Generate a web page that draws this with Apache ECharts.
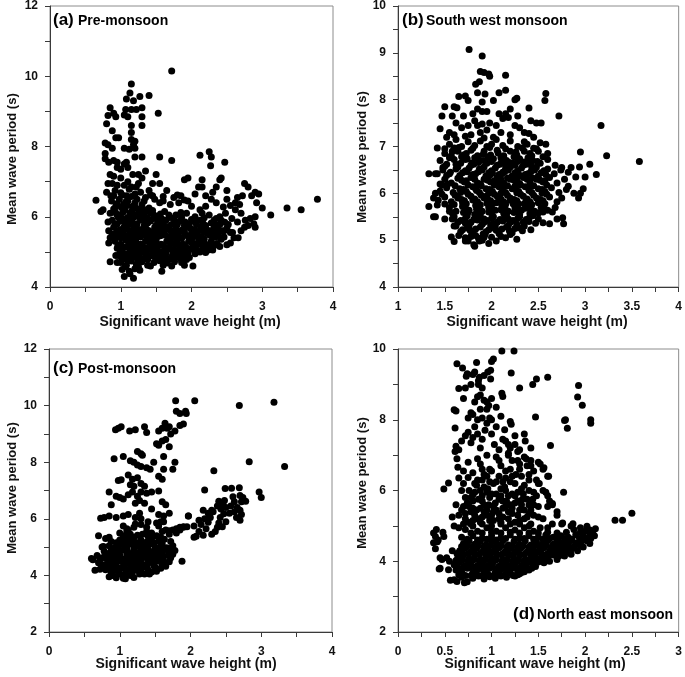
<!DOCTYPE html>
<html>
<head>
<meta charset="utf-8">
<script src="https://cdn.jsdelivr.net/npm/echarts@6/dist/echarts.min.js"></script>
<style>
html,body{margin:0;padding:0;background:#fff;}
#chart{width:685px;height:677px;}
</style>
</head>
<body>
<div id="chart"></div>
<script>
// ---------- Panel (a) Pre-monsoon: [Hs (m), Tm (s)] ----------
const aUpper = [
[1.72,10.15],[1.15,9.78],[1.13,9.52],[1.08,9.35],[1.18,9.3],[1.27,9.42],[1.4,9.45],[1.07,9.05],[1.15,9.05],[1.22,9.05],[1.3,9.1],[1.05,8.9],[1.1,8.85],[1.3,8.85],[1.3,8.6],[1.15,8.6],[1.15,8.4],[1.15,8.2],[1.18,8.05],[1.2,7.95],[1.12,7.92],[1.05,7.95],[1.2,8.15],[1.53,8.95],
[0.85,9.1],[0.82,8.88],[0.9,8.95],[0.93,8.85],[0.8,8.65],[0.88,8.45],[0.78,8.1],[0.82,8.05],[0.88,7.95],[0.78,7.8],[0.78,7.65],[0.83,7.55],[0.9,7.6],[0.95,7.55],[0.93,8.25],[0.97,8.25],[0.95,7.4],[0.85,7.2],[0.9,7.15],[1.0,7.35],[1.05,7.5],[1.08,7.55],[1.1,7.4],[1.0,7.1],[1.05,6.9],[1.1,7.0],[1.17,7.2],[1.25,7.2],[1.3,7.1],[1.35,7.3],[1.2,7.7],[1.3,7.7],[1.25,6.95],[1.15,6.85],[0.95,6.9],[0.88,6.95]
];
const aMid = [
[1.55,7.7],[1.72,7.6],[2.12,7.75],[2.25,7.85],[2.28,7.7],[2.27,7.45],[2.47,7.55],[1.9,7.05],[1.95,7.1],[2.15,7.05],[2.4,7.05],[2.42,7.1],[2.1,6.85],[2.15,6.85],[1.5,7.2],[1.45,6.95],[1.55,6.95],[1.65,6.75],[2.5,6.75],[2.75,6.95],[2.8,6.85],[2.65,6.55],[2.72,6.6],[2.85,6.6],[2.9,6.7],[2.95,6.65],[2.92,6.4],[3.0,6.25],[3.12,6.05],[3.35,6.25],[3.55,6.2],[3.78,6.5],[0.65,6.47],[0.72,6.15],[0.75,6.2],
[0.8,6.7],[0.86,6.6],[0.92,6.75],[1.0,6.68],[1.08,6.6],[1.12,6.78],[1.2,6.65],[1.28,6.7],[1.35,6.55],[0.82,6.95],[1.22,6.85],[1.4,6.75],[1.45,6.6],[1.6,6.45],[1.75,6.55],[1.85,6.6],[1.95,6.45],[2.05,6.65],[2.2,6.6],[2.3,6.7],[2.35,6.85]
];
const aCore = [
[0.87,6.45],[0.93,6.3],[0.98,6.5],[1.04,6.35],[1.1,6.45],[1.17,6.3],[1.23,6.5],[1.3,6.35],[1.36,6.2],[0.9,6.6],[1.02,6.62],[1.15,6.58],
[0.85,6.1],[0.92,6.15],[0.99,6.05],[1.06,6.2],[1.13,6.1],[1.19,6.0],[1.26,6.15],[1.33,6.05],[1.42,6.1],[1.52,6.0],[1.62,6.15],[1.78,6.05],[1.93,6.1],[2.05,6.0],[2.25,6.05],
[0.88,5.9],[0.95,5.8],[1.02,5.95],[1.09,5.85],[1.16,5.92],[1.23,5.8],[1.3,5.9],[1.38,5.82],[1.46,5.95],[1.55,5.8],[1.64,5.9],[1.72,5.78],[1.84,5.88],[1.97,5.8],[2.12,5.9],[2.28,5.82],[2.42,5.9],[2.52,5.78],
[0.9,5.7],[0.98,5.62],[1.05,5.72],[1.12,5.6],[1.19,5.7],[1.26,5.64],[1.33,5.74],[1.4,5.6],[1.48,5.7],[1.56,5.62],[1.63,5.72],[1.7,5.6],[1.78,5.68],[1.87,5.62],[1.95,5.72],[2.04,5.63],[2.13,5.7],[2.22,5.62],[2.32,5.7],[2.42,5.6],[2.5,5.68],
[0.88,5.5],[0.96,5.45],[1.03,5.55],[1.1,5.42],[1.17,5.52],[1.24,5.45],[1.31,5.55],[1.38,5.42],[1.45,5.5],[1.52,5.44],[1.6,5.55],[1.67,5.42],[1.74,5.5],[1.82,5.44],[1.9,5.53],[1.98,5.42],[2.06,5.5],[2.14,5.44],[2.22,5.52],[2.3,5.42],[2.38,5.5],[2.46,5.42],
[0.92,5.3],[1.0,5.22],[1.07,5.33],[1.14,5.24],[1.21,5.32],[1.28,5.22],[1.35,5.3],[1.43,5.24],[1.5,5.34],[1.57,5.22],[1.65,5.3],[1.72,5.24],[1.8,5.33],[1.88,5.22],[1.96,5.3],[2.04,5.24],[2.12,5.32],[2.2,5.22],[2.28,5.3],[2.36,5.24],
[0.95,5.1],[1.02,5.02],[1.09,5.14],[1.16,5.04],[1.23,5.12],[1.3,5.02],[1.37,5.1],[1.45,5.04],[1.52,5.14],[1.6,5.02],[1.68,5.1],[1.76,5.04],[1.84,5.12],[1.92,5.02],[2.0,5.1],[2.08,5.04],[2.16,5.12],[2.24,5.05],
[0.97,4.9],[1.04,4.82],[1.11,4.94],[1.18,4.85],[1.26,4.92],[1.33,4.82],[1.41,4.9],[1.49,4.84],[1.57,4.93],[1.65,4.82],[1.73,4.9],[1.81,4.85],[1.89,4.92],[1.97,4.84],[2.05,4.95],
[1.0,4.7],[1.08,4.62],[1.15,4.74],[1.22,4.65],[1.3,4.72],[1.38,4.62],[1.47,4.7],[1.55,4.75],[1.66,4.68],[1.76,4.72],[1.86,4.7],
[1.02,4.5],[1.05,4.3],[1.12,4.45],[1.18,4.25],[1.2,4.52],[1.27,4.48],[1.58,4.45],[2.02,4.6],
[0.82,5.85],[0.83,5.6],[0.85,5.4],[0.83,5.25],[0.85,4.72],[0.93,4.9],[0.95,4.7]
];
const aCoreFill = [
[0.9,6.22],[1.01,6.26],[1.09,6.32],[1.22,6.24],[1.3,6.22],[1.4,6.25],
[0.96,6.0],[1.1,5.98],[1.22,6.06],[1.37,5.97],[1.47,6.05],[1.58,5.94],[1.7,5.98],[1.86,5.98],[2.0,5.92],[2.18,5.97],[2.35,5.95],
[0.92,5.78],[1.06,5.86],[1.19,5.76],[1.34,5.84],[1.5,5.76],[1.6,5.84],[1.68,5.72],[1.8,5.78],[1.91,5.85],[2.07,5.78],[2.2,5.75],[2.36,5.76],[2.47,5.84],
[0.94,5.56],[1.08,5.66],[1.23,5.58],[1.36,5.66],[1.52,5.58],[1.66,5.66],[1.82,5.58],[1.99,5.66],[2.09,5.58],[2.27,5.6],[2.37,5.66],[2.55,5.55],
[0.92,5.38],[1.07,5.46],[1.2,5.38],[1.35,5.48],[1.48,5.38],[1.63,5.47],[1.78,5.38],[1.94,5.46],[2.1,5.38],[2.26,5.47],[2.42,5.36],
[0.96,5.18],[1.11,5.28],[1.25,5.18],[1.4,5.28],[1.54,5.18],[1.69,5.28],[1.84,5.18],[2.0,5.27],[2.16,5.18],[2.32,5.18],
[0.99,4.98],[1.13,5.06],[1.28,4.98],[1.42,5.08],[1.56,4.98],[1.72,5.06],[1.87,4.98],[2.03,5.06],[2.2,4.98],
[1.02,4.78],[1.16,4.88],[1.3,4.78],[1.45,4.88],[1.6,4.78],[1.77,4.88],[1.93,4.78],
[1.06,4.58],[1.25,4.58],[1.42,4.6],[1.6,4.62],[1.72,4.6],[1.9,4.62],[1.13,4.38]
];
const aCoreFill2 = [
[0.95,6.38],[1.07,6.42],[1.2,6.4],[1.33,6.45],
[0.94,6.08],[1.03,6.12],[1.16,6.18],[1.29,6.08],[1.45,6.18],[1.56,6.08],[1.68,6.05],[1.85,6.12],[2.15,6.1],
[0.99,5.88],[1.13,5.78],[1.27,5.96],[1.42,5.88],[1.52,5.9],[1.76,5.9],[1.9,5.75],[2.03,5.88],[2.16,5.82],[2.32,5.9],[2.4,5.78],
[1.01,5.64],[1.15,5.56],[1.3,5.62],[1.44,5.56],[1.59,5.68],[1.74,5.58],[1.9,5.6],[2.0,5.52],[2.18,5.58],[2.34,5.55],[2.46,5.6],
[1.0,5.4],[1.14,5.36],[1.28,5.42],[1.42,5.36],[1.56,5.46],[1.7,5.36],[1.86,5.38],[2.02,5.42],[2.18,5.36],[2.34,5.42],
[1.03,5.14],[1.18,5.2],[1.32,5.14],[1.47,5.2],[1.62,5.14],[1.77,5.2],[1.92,5.14],[2.08,5.2],[2.24,5.18],
[1.06,4.95],[1.2,4.98],[1.36,4.96],[1.5,5.0],[1.64,4.96],[1.8,5.0],[1.95,4.96],[2.12,5.0],
[1.1,4.78],[1.24,4.8],[1.38,4.78],[1.53,4.8],[1.69,4.8],[1.85,4.8]
];
const aRight = [
[2.3,5.05],[2.4,5.15],[2.5,5.2],[2.55,5.25],[2.6,5.4],[2.66,5.4],[2.58,5.55],[2.7,5.6],[2.75,5.7],[2.8,5.75],[2.88,5.8],[2.9,5.7],[2.76,5.9],[2.83,5.95],[2.9,6.0],[2.7,6.1],[2.62,6.2],[2.55,6.32],[2.48,6.1],[2.4,6.0],[2.35,6.4],[2.28,6.5],[2.2,6.3],[2.12,6.2],[2.0,6.3],[1.9,6.48],[1.82,6.4],[1.8,6.62],[1.7,6.35],[1.6,6.58],[1.55,6.4],[1.48,6.5],[1.42,6.62],[2.5,6.5],[2.62,6.4],[2.68,6.35],[2.45,6.28],[2.57,5.95],[2.65,5.85]
];

// ---------- Panel (b) South west monsoon ----------
const bOuter = [
[1.76,9.07],[1.9,8.93],[1.88,8.6],[1.92,8.58],[1.97,8.55],[1.98,8.5],[1.83,8.33],[1.87,8.38],[2.15,8.52],[2.15,8.2],[2.08,8.15],[1.93,8.12],[2.02,7.98],[2.25,8.0],[2.27,8.03],[2.58,8.13],[2.57,7.98],[2.4,7.82],[2.72,7.65],[3.17,7.45],[3.23,6.8],[3.58,6.68],[2.95,6.88],[2.94,6.56],[3.05,6.62],[3.12,6.4],[3.0,6.35],[2.98,6.1],[2.93,5.9],[2.95,6.0],[2.77,5.35],[2.76,5.48],[2.62,5.35],[2.55,5.37],[2.27,5.02],[2.2,5.12],[2.33,5.2],[1.82,4.87],[1.81,4.9],[1.87,4.98],[1.72,4.98],[1.6,4.97],[1.57,5.07],[1.33,5.72],[1.38,5.5],[1.4,5.5],[1.5,5.45],[1.33,6.42],[1.4,6.42],[1.42,6.42],[1.42,6.97],[1.45,7.38],[1.47,7.65],[1.5,7.85],[1.63,7.83],[1.65,8.07],[1.72,8.08],[1.75,7.98],[1.6,7.25],[1.72,7.22],[1.75,7.45],[1.85,7.45],[1.9,7.48],[1.8,7.7],[1.85,7.8],[1.9,7.75],[1.95,7.75],[1.98,7.5],[1.92,7.18],[2.0,7.05],[2.1,7.3],[2.12,7.6],[2.15,7.7],[2.18,7.62],[2.28,7.65],[2.3,7.4],[2.35,7.1],[2.4,7.28],[2.42,7.55],[2.48,7.5],[2.53,7.5],[2.58,7.05],[2.52,7.08],[2.48,6.95],
[1.38,5.9],[1.42,5.75],[1.45,6.2],[1.4,6.0],[2.85,6.55],[2.9,6.35],[2.82,6.15],[2.88,6.0],[2.7,5.45],[2.65,5.6],
[1.55,7.3],[1.62,7.5],[1.68,7.4],[1.7,7.65],[1.78,7.25],[1.82,7.55],[1.88,7.3],[1.95,7.35],[2.02,7.2],[2.05,7.45],[2.08,7.7],[2.2,7.25],[2.25,7.45],[2.35,7.3],[1.6,7.85],[1.9,7.95],[2.2,7.8],[1.85,8.15],[2.45,7.2],[1.58,7.65],[1.52,7.2],[1.48,6.55]
];
const bCore = [
[1.55,7.05],[1.62,7.15],[1.68,7.0],[1.75,7.1],[1.82,7.02],[1.88,7.12],[1.95,7.0],[2.05,7.15],[2.12,7.02],[2.2,7.12],[2.28,7.0],[2.38,7.05],[1.5,6.95],[1.58,6.9],
[1.5,6.85],[1.57,6.8],[1.64,6.9],[1.7,6.82],[1.78,6.92],[1.85,6.8],[1.92,6.9],[1.99,6.82],[2.06,6.92],[2.13,6.8],[2.2,6.9],[2.27,6.82],[2.35,6.9],[2.43,6.8],[2.5,6.9],[2.6,6.85],
[1.45,6.7],[1.52,6.62],[1.6,6.72],[1.67,6.64],[1.74,6.74],[1.81,6.62],[1.88,6.7],[1.95,6.64],[2.02,6.74],[2.09,6.62],[2.16,6.7],[2.23,6.64],[2.3,6.74],[2.37,6.62],[2.44,6.7],[2.52,6.64],[2.6,6.72],[2.68,6.6],[2.75,6.55],
[1.48,6.5],[1.55,6.42],[1.62,6.52],[1.69,6.44],[1.76,6.54],[1.83,6.42],[1.9,6.5],[1.97,6.44],[2.04,6.54],[2.11,6.42],[2.18,6.5],[2.25,6.44],[2.32,6.54],[2.39,6.42],[2.46,6.5],[2.53,6.44],[2.6,6.52],[2.67,6.42],[2.74,6.5],[2.82,6.45],
[1.5,6.3],[1.57,6.22],[1.64,6.32],[1.71,6.24],[1.78,6.34],[1.85,6.22],[1.92,6.3],[1.99,6.24],[2.06,6.34],[2.13,6.22],[2.2,6.3],[2.27,6.24],[2.34,6.34],[2.41,6.22],[2.48,6.3],[2.55,6.24],[2.62,6.34],[2.7,6.22],[2.78,6.3],
[1.45,6.05],[1.52,6.12],[1.59,6.02],[1.66,6.1],[1.73,6.04],[1.8,6.14],[1.87,6.02],[1.94,6.1],[2.01,6.04],[2.08,6.14],[2.15,6.02],[2.22,6.1],[2.29,6.04],[2.36,6.14],[2.43,6.02],[2.5,6.1],[2.57,6.04],[2.64,6.12],[2.72,6.02],[2.8,6.08],
[1.43,5.85],[1.5,5.92],[1.57,5.82],[1.64,5.9],[1.71,5.84],[1.78,5.94],[1.85,5.82],[1.92,5.9],[1.99,5.84],[2.06,5.94],[2.13,5.82],[2.2,5.9],[2.27,5.84],[2.34,5.94],[2.41,5.82],[2.48,5.9],[2.55,5.84],[2.62,5.92],[2.7,5.82],[2.75,5.9],
[1.55,5.7],[1.62,5.62],[1.69,5.72],[1.76,5.64],[1.83,5.74],[1.9,5.62],[1.97,5.7],[2.04,5.64],[2.11,5.74],[2.18,5.62],[2.25,5.7],[2.32,5.64],[2.39,5.74],[2.46,5.62],[2.53,5.7],[2.6,5.64],[2.68,5.7],
[1.6,5.5],[1.67,5.42],[1.74,5.52],[1.81,5.44],[1.88,5.54],[1.95,5.42],[2.02,5.5],[2.09,5.44],[2.16,5.54],[2.23,5.42],[2.3,5.5],[2.37,5.44],[2.44,5.52],[2.5,5.45],
[1.62,5.3],[1.69,5.22],[1.76,5.32],[1.83,5.24],[1.9,5.34],[1.97,5.22],[2.04,5.3],[2.11,5.24],[2.18,5.32],[2.25,5.25],[2.35,5.3],[2.42,5.22],
[1.65,5.1],[1.72,5.05],[1.79,5.14],[1.86,5.04],[1.93,5.12],[2.0,5.06],[2.08,5.14],[2.15,5.05],
[1.82,5.55],[1.88,5.75],[1.95,5.95],[2.0,5.58],[2.05,5.8],[2.1,6.0],[2.15,5.65],[2.2,5.85],[2.25,6.15],[2.3,5.55],[2.08,6.25],[1.98,6.38],[2.12,6.45],[2.25,6.6],[2.35,5.78],[1.92,5.45],[2.02,5.35],[2.18,5.45],[1.75,5.6],[2.28,6.35]
];
const bCoreFill = [
[1.65,6.98],[1.8,6.96],[1.98,6.98],[2.15,6.95],[2.33,6.97],[2.45,6.96],
[1.55,6.76],[1.68,6.78],[1.82,6.76],[1.96,6.78],[2.1,6.76],[2.24,6.78],[2.39,6.76],[2.55,6.78],
[1.5,6.58],[1.64,6.56],[1.78,6.6],[1.92,6.56],[2.06,6.6],[2.2,6.56],[2.34,6.6],[2.48,6.56],
[1.52,6.38],[1.66,6.38],[1.8,6.4],[1.94,6.37],[2.08,6.4],[2.22,6.37],[2.36,6.4],[2.5,6.37],
[1.47,6.18],[1.61,6.16],[1.75,6.18],[1.89,6.16],[2.03,6.18],[2.17,6.16],[2.31,6.18],[2.45,6.16],[2.59,6.18],
[1.47,5.98],[1.61,5.96],[1.75,5.98],[1.89,5.96],[2.03,5.98],[2.17,5.96],[2.31,5.98],[2.45,5.96],[2.59,5.98],
[1.5,5.77],[1.6,5.76],[1.73,5.78],[1.87,5.76],[2.01,5.78],[2.15,5.76],[2.29,5.78],[2.43,5.76],[2.57,5.78],
[1.58,5.58],[1.71,5.6],[1.85,5.57],[1.99,5.6],[2.13,5.57],[2.27,5.6],[2.41,5.57],[2.55,5.6],
[1.64,5.38],[1.78,5.38],[1.92,5.38],[2.06,5.38],[2.2,5.38],[2.34,5.38],[2.47,5.36],
[1.67,5.18],[1.8,5.18],[1.94,5.18],[2.08,5.18],[2.22,5.16],
[1.75,4.98],[1.9,5.0],[2.05,4.98],[1.97,4.93]
];
const bCoreFill2 = [
[1.72,6.72],[1.86,6.66],[2.0,6.68],[2.14,6.64],[2.28,6.68],[2.42,6.64],
[1.72,6.48],[1.86,6.46],[2.0,6.48],[2.14,6.46],[2.28,6.48],[2.42,6.46],[2.56,6.48],
[1.68,6.28],[1.82,6.3],[1.96,6.28],[2.1,6.3],[2.24,6.28],[2.38,6.3],[2.52,6.28],
[1.7,6.08],[1.84,6.06],[1.98,6.08],[2.12,6.06],[2.26,6.08],[2.4,6.06],[2.54,6.08],
[1.68,5.87],[1.82,5.88],[1.96,5.87],[2.1,5.88],[2.24,5.87],[2.38,5.88],[2.52,5.87],
[1.72,5.68],[1.86,5.68],[2.0,5.68],[2.14,5.68],[2.28,5.68],[2.42,5.68],[2.56,5.68],
[1.72,5.46],[1.86,5.48],[2.0,5.46],[2.14,5.48],[2.28,5.46],[2.4,5.47],
[1.74,5.26],[1.88,5.28],[2.02,5.26],[2.16,5.28],[2.3,5.26],
[1.78,5.08],[1.92,5.06],[2.1,5.08]
];
const bCoreFill3 = [
[1.73,6.85],[1.91,6.83],[2.07,6.86],[2.26,6.88],[2.41,6.85],[1.79,6.65],[1.93,6.69],[2.11,6.69],[2.19,6.66],[2.35,6.67],[2.49,6.68],[1.74,6.46],[1.87,6.52],[2.01,6.43],[2.15,6.53],[2.29,6.41],[2.43,6.55],[2.58,6.4],[1.73,6.27],[1.88,6.2],[2.03,6.27],[2.17,6.33],[2.3,6.21],[2.44,6.33],[2.57,6.27],[1.67,6.02],[1.83,6.1],[1.97,6.0],[2.12,6.11],[2.27,6.01],[2.4,6.12],[2.54,6.0],[1.69,5.8],[1.8,5.86],[1.95,5.79],[2.08,5.86],[2.23,5.78],[2.37,5.85],[2.5,5.8],[1.7,5.59],[1.84,5.66],[1.97,5.6],[2.1,5.65],[2.24,5.59],[2.36,5.68],[2.5,5.58],[1.72,5.36],[1.85,5.43],[1.99,5.33],[2.12,5.41],[2.27,5.34],[2.4,5.4],[1.77,5.21],[1.91,5.13],[2.05,5.21],[2.19,5.2],[1.83,5.1],[1.6,5.3],[1.58,5.45],[1.55,5.62],[1.53,6.2],[1.56,6.45],[1.62,6.62],[1.6,6.97]
];

// ---------- Panel (c) Post-monsoon ----------
const cArm = [
[0.73,6.02],[0.78,6.05],[0.85,6.1],[0.95,6.05],[1.05,6.1],[1.12,6.15],[1.22,6.05],[1.28,6.2],[1.3,6.0],[0.88,6.5],[0.95,6.8],[1.0,6.75],[1.05,6.7],[1.12,6.85],[1.18,6.95],[1.25,6.8],[1.28,6.65],[1.35,6.55],[1.22,6.55],[1.3,6.95],[1.38,6.9],[1.45,6.95],[1.55,6.98],[0.85,6.95],[0.98,7.35],[1.02,7.38],[1.12,7.55],[1.18,7.4],[1.25,7.45],[1.3,7.25],[1.35,7.15],[1.2,7.15],[1.15,7.2],[1.55,7.5],[1.6,7.4],[1.62,7.75],[1.75,7.75],[1.38,7.8],[1.43,7.75],[1.3,7.85],[1.25,7.9],[1.2,8.0],[1.15,8.05],[1.05,8.2],[0.92,8.12],[1.3,8.3],[1.25,8.38],[1.32,8.25],[1.48,8.0],[1.62,8.2],[1.7,8.55],[1.55,8.6],[1.6,8.75],[1.65,8.8],[1.72,9.0],[1.78,9.1],[1.85,9.3],[1.9,9.35],[1.6,9.2],[1.55,9.1],[1.52,8.65],[0.94,9.15],[0.98,9.2],[1.02,9.25],[1.14,9.1],[1.22,9.15],[1.35,9.25],[1.38,9.05],[1.64,9.38],[1.7,9.25],[1.67,9.2],[1.8,9.8],[1.85,9.72],[1.93,9.8],[1.94,9.72],[1.79,10.17],[2.06,10.17],[1.78,8.0],[1.45,6.35],[1.6,6.6],[1.65,6.5],[1.55,6.15],[1.62,6.1],[1.7,6.2],[1.58,5.9],[1.97,6.1],[1.85,5.7]
];
const cBand = [
[2.2,7.02],[2.49,7.07],[2.58,7.08],[2.69,7.1],[2.33,7.7],[2.83,8.02],[3.33,7.85],[2.69,10.0],[3.18,10.12],[2.97,6.95],[3.0,6.75],
[2.7,6.82],[2.74,6.75],[2.72,6.6],[2.78,6.62],[2.6,6.78],[2.62,6.6],[2.57,6.45],[2.66,6.4],[2.62,6.25],[2.7,6.3],[2.72,6.15],[2.65,6.05],[2.7,5.95],[2.55,6.2],
[2.48,6.65],[2.46,6.5],[2.4,6.62],[2.38,6.45],[2.43,6.35],[2.5,6.4],[2.47,6.18],[2.42,6.05],[2.5,5.9],[2.4,5.85],[2.45,5.72],[2.38,5.7],[2.35,5.55],[2.32,6.25],
[2.3,6.3],[2.25,6.2],[2.18,6.3],[2.28,6.05],[2.2,6.0],[2.12,5.95],[2.25,5.88],[2.15,5.8],[2.05,5.75],[2.22,5.65],[2.12,5.55],[2.3,5.45],[2.18,5.42],[2.08,5.38],[2.05,5.35],[1.97,6.1],[1.9,5.72],[1.88,4.5]
];
const cCore = [
[0.9,4.0],[0.95,3.92],[1.0,4.05],[1.05,3.9],[1.08,3.88],[1.15,4.0],[1.2,3.93],[1.28,4.05],[1.35,4.05],[1.45,4.12],[1.52,4.15],[0.85,3.95],
[0.65,4.18],[0.72,4.22],[0.8,4.2],[0.88,4.28],[0.95,4.18],[1.02,4.25],[1.1,4.2],[1.18,4.3],[1.25,4.18],[1.32,4.28],[1.4,4.2],[1.5,4.3],[1.58,4.25],[1.65,4.32],
[0.7,4.45],[0.78,4.38],[0.85,4.48],[0.92,4.4],[0.99,4.5],[1.06,4.38],[1.13,4.46],[1.2,4.4],[1.27,4.5],[1.34,4.38],[1.41,4.46],[1.48,4.4],[1.56,4.5],[1.63,4.42],[1.7,4.48],
[0.6,4.6],[0.62,4.55],[0.68,4.7],[0.75,4.62],[0.82,4.7],[0.89,4.6],[0.96,4.68],[1.03,4.58],[1.1,4.7],[1.17,4.6],[1.24,4.68],[1.31,4.58],[1.38,4.7],[1.45,4.6],[1.52,4.68],[1.6,4.6],[1.68,4.7],[1.72,4.62],
[0.78,4.85],[0.85,4.78],[0.92,4.88],[0.99,4.8],[1.06,4.9],[1.13,4.78],[1.2,4.86],[1.27,4.8],[1.34,4.9],[1.41,4.78],[1.48,4.86],[1.55,4.8],[1.62,4.9],[1.7,4.82],[1.78,4.88],
[0.75,5.0],[0.85,5.05],[0.93,4.98],[1.0,5.08],[1.07,5.0],[1.14,5.1],[1.21,4.98],[1.28,5.06],[1.35,5.0],[1.42,5.1],[1.5,5.0],[1.58,5.06],[1.66,4.98],[1.75,5.05],
[0.8,5.3],[0.88,5.2],[1.0,5.25],[1.05,5.18],[1.12,5.28],[1.2,5.2],[1.3,5.25],[1.38,5.18],[1.45,5.3],[1.55,5.22],[1.63,5.28],[1.72,5.2],
[1.0,5.5],[1.05,5.4],[1.1,5.55],[1.15,5.45],[1.32,5.45],[1.38,5.55],[1.45,5.5],[1.52,5.4],[1.6,5.55],[1.7,5.45],[1.8,5.5],
[1.05,5.75],[1.1,5.65],[1.3,5.8],[1.38,5.7],[1.4,5.9],[1.55,5.75],[1.65,5.6],[1.7,5.58],[1.75,5.6],[1.8,5.65],[1.85,5.6],[1.9,5.7],[1.95,5.72],[1.52,5.85],[1.62,5.9],
[0.7,5.4],[0.85,5.35],[0.77,5.02],[1.1,4.55],[1.25,4.35],[0.98,4.25]
];
const cCoreFill = [
[0.88,4.1],[0.98,4.12],[1.08,4.08],[1.18,4.12],[1.3,4.12],[1.42,4.05],
[0.75,4.32],[0.85,4.35],[0.95,4.32],[1.05,4.32],[1.15,4.35],[1.28,4.3],[1.38,4.32],[1.48,4.35],[1.6,4.38],
[0.72,4.55],[0.82,4.58],[0.92,4.52],[1.0,4.6],[1.08,4.52],[1.2,4.55],[1.3,4.62],[1.4,4.55],[1.5,4.55],[1.62,4.52],
[0.8,4.75],[0.9,4.72],[1.0,4.72],[1.1,4.8],[1.18,4.72],[1.3,4.75],[1.4,4.68],[1.5,4.75],[1.6,4.72],[1.75,4.75],
[0.88,4.95],[0.98,4.92],[1.1,4.95],[1.2,4.92],[1.3,4.95],[1.4,4.92],[1.55,4.92],[1.7,4.95],
[0.95,5.15],[1.08,5.12],[1.18,5.12],[1.25,5.15],[1.35,5.12],[1.48,5.15],[1.6,5.12],
[1.12,5.38],[1.2,5.35],[1.25,5.42],[1.4,5.38],[1.58,5.35],[1.12,5.6],[1.2,5.7],[1.22,5.82]
];

// ---------- Panel (d) North east monsoon ----------
const dUpper = [
[1.11,9.94],[1.24,9.94],[1.0,9.65],[1.02,9.72],[0.84,9.62],[0.63,9.58],[0.69,9.46],[0.73,9.23],[0.74,9.3],[0.8,9.28],[0.82,9.35],[0.86,9.1],[0.87,9.2],[0.92,9.25],[0.96,9.35],[0.99,9.4],[0.99,9.15],[1.21,9.32],[1.3,8.9],[1.44,9.0],[1.48,9.15],[1.6,9.2],[1.93,8.97],[1.92,8.64],[1.97,8.41],[2.06,8.0],[2.06,7.9],[1.78,7.98],[1.79,8.0],[1.81,7.76],[1.47,8.08],[1.63,7.27],[1.36,7.4],[0.65,8.88],[0.7,8.6],[0.6,8.28],[0.62,8.25],[0.61,7.77],[1.11,8.75],[1.12,8.66],[0.95,8.5],[0.97,8.4],[1.2,7.95],[1.21,7.87],[1.14,7.72],[1.15,7.4],[1.18,7.3],
[0.62,7.25],[0.65,7.15],[0.68,7.4],[0.72,7.55],[0.75,7.65],[0.78,7.35],[0.8,7.5],[0.82,7.8],[0.85,7.6],[0.88,7.2],[0.9,7.45],[0.93,7.7],[0.95,7.9],[0.98,8.05],[1.0,7.6],[1.03,7.3],[1.05,7.8],[1.08,7.15],[1.12,7.45],[1.18,7.0],[1.2,7.2],[1.25,7.55],[1.3,7.15],[1.22,6.85],[0.75,8.05],[0.78,8.2],[0.8,8.15],[0.85,8.0],[0.88,8.3],[0.9,8.05],[0.95,8.3],[1.0,8.0],[1.05,8.35],[1.1,8.1],[0.82,8.5],[0.85,8.65],[0.88,8.7],[0.92,8.55],[1.0,8.6],[0.86,9.0],[0.9,8.9],[0.78,9.0],[0.72,8.9]
];
const dMid = [
[0.49,6.04],[0.54,6.21],[0.75,6.37],[0.61,7.1],[0.63,6.9],[0.64,6.66],[2.5,5.36],[2.32,5.16],[2.4,5.16],[1.91,4.5],[1.87,5.06],[1.76,5.08],[1.77,5.95],[1.65,5.63],[1.6,5.55],[1.61,6.4],[1.56,6.64],[1.51,6.2],
[0.6,5.0],[0.65,5.3],[0.7,5.55],[0.75,5.1],[0.78,5.4],[0.8,5.7],[0.82,5.95],[0.85,5.2],[0.88,5.5],[0.9,5.85],[0.92,6.1],[0.95,5.3],[0.97,5.6],[1.0,5.9],[1.02,5.15],[1.05,5.45],[1.08,5.75],[1.1,6.05],[1.12,5.25],[1.15,5.55],[1.18,5.85],[1.2,5.05],[1.22,5.35],[1.25,5.65],[1.28,5.95],[1.3,5.15],[1.35,5.45],[1.38,5.75],[1.42,5.05],[1.45,5.3],[1.5,5.55],[1.48,5.85],[0.72,5.8],[0.68,6.0],[0.85,6.3],[0.95,6.4],[1.05,6.25],[1.15,6.35],[1.25,6.2],[1.32,6.4],[1.4,6.3],[0.62,5.6],[0.58,5.25],[0.7,6.2],[0.8,6.5],[0.9,6.6],[1.0,6.55],[1.1,6.7],[1.2,6.6],[1.3,6.75],[1.38,6.7],[1.45,6.55],[1.5,6.8],[0.75,6.8],[0.85,6.9],[0.95,7.0],[1.05,6.95],[1.18,7.05],[1.28,7.1],[1.35,6.95],[1.42,6.85],[1.55,6.6],[1.6,6.4],[1.5,6.2],[1.55,6.0],[1.45,5.95],[1.6,5.85],[1.65,5.6],[1.7,5.3],[1.55,5.2],[1.65,5.05],[1.75,5.05],
[1.37,6.9],[1.42,6.7],[1.48,6.3],[1.52,6.75],[1.58,5.95],[1.62,5.7],[1.7,5.4],[1.5,5.25],[1.45,5.6],[1.4,6.0],[1.35,6.15],[1.3,6.6],[1.28,6.85],
[0.38,4.8],[0.4,4.7],[0.41,4.9],[0.38,4.52],[0.42,4.55],[0.43,4.6],[0.4,4.35],[0.45,4.1],[0.47,4.05],[0.45,3.8],[0.44,3.78],[0.56,3.46],[0.63,3.43],[0.71,3.39],[0.54,3.76],[0.49,4.7],[0.48,4.82],[0.52,4.1],[0.55,4.0],[0.58,4.3]
];
const dMidFill = [
[0.65,4.95],[0.72,5.2],[0.78,5.05],[0.82,5.3],[0.88,5.1],[0.92,5.4],[0.98,5.15],[1.02,5.4],[1.08,5.2],[1.12,5.5],[1.18,5.2],[1.22,5.5],[1.28,5.3],[1.32,5.6],[1.38,5.25],[1.42,5.45],
[0.68,5.45],[0.74,5.65],[0.8,5.5],[0.86,5.75],[0.92,5.6],[0.98,5.8],[1.04,5.65],[1.1,5.85],[1.16,5.7],[1.22,5.9],[1.28,5.7],[1.34,5.9],[1.4,5.6],
[0.76,6.0],[0.84,6.15],[0.9,6.3],[0.96,6.05],[1.02,6.2],[1.08,6.4],[1.14,6.1],[1.2,6.25],[1.26,6.45],[0.8,5.88],[0.98,6.6],[1.15,6.55],[0.88,6.75],[1.08,6.85],[1.25,7.3],[1.35,7.6],[1.42,7.2],[1.4,6.45],[0.7,6.55],[0.65,6.35]
];
const dMidFill2 = [
[0.7,5.05],[0.8,5.15],[0.9,5.25],[1.0,5.3],[1.1,5.1],[1.25,5.1],[1.35,5.2],
[0.72,5.35],[0.84,5.45],[0.95,5.45],[1.08,5.35],[1.18,5.4],[1.3,5.45],[1.4,5.35],
[0.76,5.55],[0.9,5.7],[1.02,5.55],[1.12,5.7],[1.2,5.6],[1.33,5.75],[1.44,5.75],
[0.78,5.8],[0.88,6.0],[0.95,5.95],[1.05,5.9],[1.15,6.0],[1.25,5.85],[1.32,6.05],
[0.82,6.2],[0.98,6.25],[1.12,6.25],[1.22,6.4],[0.92,6.45]
];
const dBand = [
[0.6,3.48],[0.68,3.55],[0.74,3.42],[0.8,3.52],[0.86,3.58],[0.92,3.5],[0.98,3.56],[1.04,3.52],[1.1,3.58],[1.16,3.55],[1.23,3.6],[1.28,3.62],
[0.62,3.75],[0.68,3.7],[0.74,3.8],[0.8,3.68],[0.86,3.78],[0.92,3.7],[0.98,3.8],[1.04,3.68],[1.1,3.78],[1.16,3.7],[1.22,3.8],[1.28,3.72],[1.34,3.8],[1.4,3.75],
[0.6,3.9],[0.66,3.98],[0.72,3.88],[0.78,3.96],[0.84,3.86],[0.9,3.95],[0.96,3.88],[1.02,3.98],[1.08,3.86],[1.14,3.96],[1.2,3.88],[1.26,3.98],[1.32,3.88],[1.38,3.96],[1.44,3.9],[1.5,3.98],[1.56,3.96],
[0.64,4.1],[0.7,4.18],[0.76,4.08],[0.82,4.16],[0.88,4.06],[0.94,4.15],[1.0,4.08],[1.06,4.18],[1.12,4.06],[1.18,4.16],[1.24,4.08],[1.3,4.18],[1.36,4.06],[1.42,4.15],[1.48,4.08],[1.54,4.18],[1.6,4.1],[1.66,4.18],[1.72,4.15],
[0.66,4.3],[0.72,4.38],[0.78,4.28],[0.84,4.36],[0.9,4.26],[0.96,4.35],[1.02,4.28],[1.08,4.38],[1.14,4.26],[1.2,4.36],[1.26,4.28],[1.32,4.38],[1.38,4.26],[1.44,4.35],[1.5,4.28],[1.56,4.38],[1.62,4.28],[1.68,4.36],[1.74,4.3],[1.8,4.38],[1.86,4.35],
[0.7,4.5],[0.76,4.58],[0.82,4.48],[0.88,4.56],[0.94,4.46],[1.0,4.55],[1.06,4.48],[1.12,4.58],[1.18,4.46],[1.24,4.56],[1.3,4.48],[1.36,4.58],[1.42,4.46],[1.48,4.55],[1.54,4.48],[1.6,4.58],[1.66,4.48],[1.72,4.56],[1.78,4.5],[1.84,4.58],[1.9,4.5],[1.96,4.56],[2.02,4.58],
[0.68,4.68],[0.8,4.72],[0.9,4.65],[1.0,4.72],[1.1,4.66],[1.2,4.74],[1.3,4.66],[1.4,4.72],[1.5,4.68],[1.58,4.74],[1.66,4.68],[1.74,4.72],[1.82,4.68],[1.9,4.75],[1.98,4.7],[2.05,4.75],[2.1,4.72],
[0.72,4.9],[0.85,4.85],[0.95,4.95],[1.05,4.85],[1.15,4.95],[1.25,4.88],[1.35,4.95],[1.45,4.85],[1.88,4.9],[1.95,4.95],[2.02,4.99],[2.08,4.82],[2.11,4.92],[2.0,4.85],
[1.62,4.0],[1.7,4.05],[1.78,4.15],[1.85,4.2],[1.92,4.3],[1.98,4.4],[2.05,4.5],[1.76,4.24],[1.3,3.65],[1.35,3.7],[1.43,3.8],[1.47,3.85],[1.25,3.58]
];
const dBandFill = [
[0.65,3.62],[0.72,3.6],[0.78,3.6],[0.84,3.64],[0.9,3.6],[0.96,3.64],[1.02,3.6],[1.08,3.64],[1.14,3.62],[1.2,3.66],[1.32,3.68],
[0.64,3.82],[0.7,3.84],[0.77,3.84],[0.83,3.82],[0.89,3.84],[0.95,3.82],[1.01,3.84],[1.07,3.82],[1.13,3.84],[1.19,3.82],[1.25,3.84],[1.31,3.82],[1.37,3.86],[1.46,3.88],
[0.62,4.02],[0.69,4.04],[0.75,4.02],[0.81,4.04],[0.87,4.0],[0.93,4.04],[0.99,4.0],[1.05,4.04],[1.11,4.0],[1.17,4.04],[1.23,4.0],[1.29,4.04],[1.35,4.0],[1.41,4.04],[1.47,4.02],[1.53,4.05],[1.58,4.06],
[0.63,4.22],[0.69,4.24],[0.75,4.22],[0.81,4.24],[0.87,4.2],[0.93,4.24],[0.99,4.2],[1.05,4.24],[1.11,4.2],[1.17,4.24],[1.23,4.2],[1.29,4.24],[1.35,4.2],[1.41,4.24],[1.47,4.2],[1.53,4.24],[1.59,4.2],[1.65,4.24],[1.71,4.22],[1.8,4.26],
[0.68,4.42],[0.74,4.44],[0.8,4.42],[0.86,4.44],[0.92,4.4],[0.98,4.44],[1.04,4.4],[1.1,4.44],[1.16,4.4],[1.22,4.44],[1.28,4.4],[1.34,4.44],[1.4,4.4],[1.46,4.44],[1.52,4.4],[1.58,4.44],[1.64,4.4],[1.7,4.44],[1.76,4.42],[1.82,4.44],[1.88,4.42],[1.94,4.46],
[0.74,4.62],[0.85,4.6],[0.95,4.62],[1.05,4.6],[1.15,4.64],[1.25,4.62],[1.35,4.64],[1.45,4.62],[1.55,4.62],[1.62,4.64],[1.7,4.62],[1.78,4.64],[1.86,4.62],[1.94,4.64],[2.0,4.65],[2.06,4.64],
[0.78,4.8],[0.9,4.8],[1.0,4.82],[1.1,4.8],[1.2,4.82],[1.3,4.8],[1.4,4.8],[1.5,4.8],[1.6,4.82],[1.7,4.8],[1.8,4.82],[1.95,4.82],[2.05,4.88],
[0.8,5.0],[0.9,5.05],[1.0,5.0],[1.1,5.05],[1.3,5.05],[1.4,5.0],[1.52,4.95],[1.6,4.95],[1.85,5.0]
];

// ---------- layout helpers (style only) ----------
const FONT = '"Liberation Sans", Arial, sans-serif';
const panels = [
  {grid:{left:50, top:5, width:283, height:282}, x:[0,4,1], y:[4,12,2], data:aUpper.concat(aMid, aCore, aCoreFill, aCoreFill2, aRight)},
  {grid:{left:398, top:5, width:282, height:282}, x:[1,4,0.5], y:[4,10,1], data:bOuter.concat(bCore, bCoreFill, bCoreFill2, bCoreFill3)},
  {grid:{left:49, top:349, width:283, height:283}, x:[0,4,1], y:[2,12,2], data:cArm.concat(cBand, cCore, cCoreFill)},
  {grid:{left:398, top:349, width:282, height:283}, x:[0,3,0.5], y:[2,10,2], data:dUpper.concat(dMid, dMidFill, dMidFill2, dBand, dBandFill)}
];
const labels = [
  {tag:'(a)', name:'Pre-monsoon', tx:53, nx:78, y:22},
  {tag:'(b)', name:'South west monsoon', tx:402, nx:426, y:22},
  {tag:'(c)', name:'Post-monsoon', tx:53, nx:78, y:370},
  {tag:'(d)', name:'North east monsoon', tx:513, nx:537, y:616}
];
const xTitlePos = [[190,322],[537,322],[186,664],[535,664]];
const yTitlePos = [[12,159],[362,157],[12,488],[362,483]];
const xTitle = 'Significant wave height (m)';
const yTitle = 'Mean wave period (s)';

function axis(range, idx, isX){
  return {
    type:'value', gridIndex:idx, min:range[0], max:range[1], interval:range[2],
    axisLine:{show:true, onZero:false, lineStyle:{color:'#3a3a3a', width:1}},
    axisTick:{show:true, inside:false, length:5, lineStyle:{color:'#3a3a3a'}},
    minorTick:{show:true, splitNumber:2, length:5, lineStyle:{color:'#3a3a3a'}},
    splitLine:{show:false},
    axisLabel:{color:'#111', fontFamily:FONT, fontWeight:'bold', fontSize:12, margin:isX ? 14 : 12}
  };
}

const option = {
  animation:false,
  backgroundColor:'#fff',
  grid: panels.map(p => Object.assign({show:true, borderColor:'#8c8c8c', borderWidth:1, backgroundColor:'transparent'}, p.grid)),
  xAxis: panels.map((p,i) => axis(p.x, i, true)),
  yAxis: panels.map((p,i) => axis(p.y, i, false)),
  series: panels.map((p,i) => ({
    type:'scatter', xAxisIndex:i, yAxisIndex:i, data:p.data,
    symbol:'circle', symbolSize:7, itemStyle:{color:'#000', opacity:1}, silent:true
  })),
  graphic: [].concat(
    labels.map(l => ({type:'text', left:l.tx, top:l.y-10, style:{text:l.tag, font:'bold 17px '+FONT, fill:'#000'}})),
    labels.map(l => ({type:'text', left:l.nx, top:l.y-8, style:{text:l.name, font:'bold 14px '+FONT, fill:'#000'}})),
    xTitlePos.map(p => ({type:'text', x:p[0], y:p[1], style:{text:xTitle, font:'bold 14px '+FONT, fill:'#111', textAlign:'center', textVerticalAlign:'middle'}})),
    yTitlePos.map(p => ({type:'text', x:p[0], y:p[1], rotation:Math.PI/2, style:{text:yTitle, font:'bold 13px '+FONT, fill:'#111', textAlign:'center', textVerticalAlign:'middle'}}))
  )
};

const chart = echarts.init(document.getElementById('chart'), null, {renderer:'canvas'});
chart.setOption(option);
</script>
</body>
</html>
